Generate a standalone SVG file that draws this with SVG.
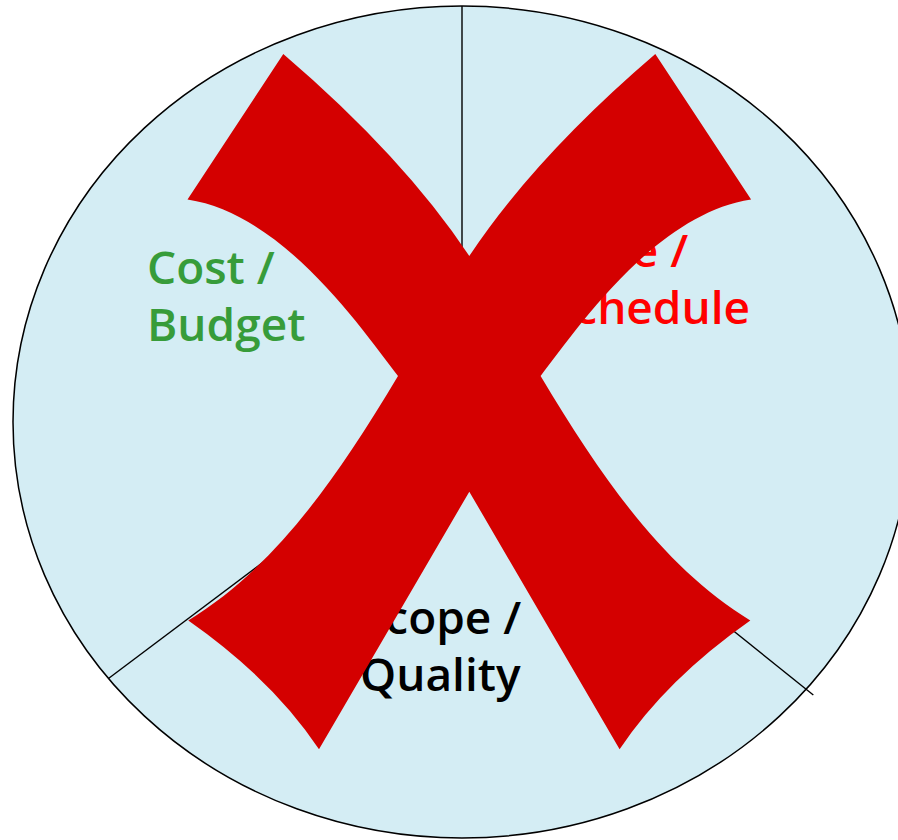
<svg xmlns="http://www.w3.org/2000/svg" width="898" height="840" viewBox="0 0 898 840">
  <style>
    .disc { fill: #d4edf4; stroke: #000; stroke-width: 1.5; }
    .divider { stroke: #000; stroke-width: 1.4; fill: none; }
    .label { font-family: "Open Sans", "Liberation Sans", sans-serif; font-weight: 600; font-size: 46px; }
    .cost { fill: #379c3a; }
    .time { fill: #ff0000; }
    .scope { fill: #000; }
    .cross { fill: #d40000; }
  </style>
  <rect width="898" height="840" fill="#fff"/>

  <!-- the triangle of constraints: one disc cut into three sectors -->
  <g id="disc">
    <ellipse class="disc" cx="462" cy="422" rx="449" ry="416"/>
  </g>

  <g id="connectors">
    <line class="divider" x1="462" y1="6" x2="462" y2="413"/>
    <line class="divider" x1="462" y1="413" x2="108.8" y2="678.3"/>
    <line class="divider" x1="462" y1="413" x2="813.3" y2="695"/>
  </g>

  <g id="cost-budget">
    <text class="label cost" x="147" y="284">Cost /<tspan x="147" dy="57">Budget</tspan></text>
  </g>

  <g id="time-schedule">
    <text class="label time" x="549" y="267">Time /<tspan x="549" dy="57">Schedule</tspan></text>
  </g>

  <g id="scope-quality">
    <text class="label scope" x="360" y="634">Scope /<tspan x="360" dy="57">Quality</tspan></text>
  </g>

  <!-- brush-stroke cross over the whole disc, mirrored about x = 469.3 -->
  <g id="cross">
    <path class="cross" d="M 283.3 54
      Q 403.6 157 469.3 256
      Q 535 157 655.3 54
      L 751.1 199.5
      C 653.6 214 573.6 333.8 540.6 376
      C 608.6 490 668.6 570 750.3 620.5
      Q 666.2 679.4 619.6 749.3
      L 469.3 491.7
      L 319 749.3
      Q 272.4 679.4 188.3 620.5
      C 270 570 330 490 398 376
      C 365 333.8 285 214 187.5 199.5
      Z"/>
  </g>
</svg>
